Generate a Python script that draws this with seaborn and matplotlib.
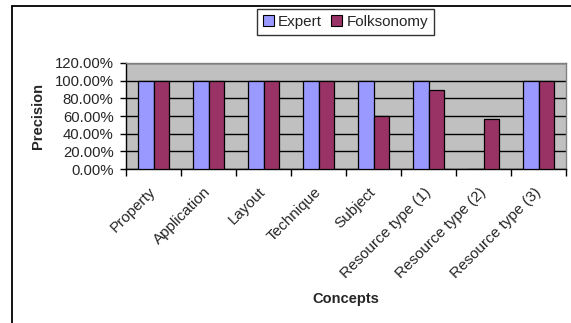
import numpy as np
import pandas as pd
import seaborn as sns
import matplotlib
matplotlib.use("Agg")
import matplotlib.pyplot as plt
from matplotlib.ticker import PercentFormatter, FixedLocator
from matplotlib.patches import Patch
from matplotlib.lines import Line2D

concepts = ["Property", "Application", "Layout", "Technique", "Subject",
            "Resource type (1)", "Resource type (2)", "Resource type (3)"]
expert = [100, 100, 100, 100, 100, 100, 0, 100]
folksonomy = [100, 100, 100, 100, 60, 88.89, 57.14, 100]
series = ["Expert", "Folksonomy"]
colors = ["#9999FF", "#993366"]
yticks = [0, 20, 40, 60, 80, 100, 120]

df = pd.DataFrame({
    "Concept": concepts * 2,
    "Precision": expert + folksonomy,
    "Method": [series[0]] * len(concepts) + [series[1]] * len(concepts),
})

sns.set_theme(style="white")
plt.rcParams["font.family"] = ["Liberation Sans", "DejaVu Sans"]

W, H = 571, 323
fig = plt.figure(figsize=(W / 100, H / 100), dpi=100)
ax = fig.add_axes([126 / W, 1 - 169 / H, 440 / W, 106 / H])
ax.set_facecolor("#C0C0C0")

sns.barplot(data=df, x="Concept", y="Precision", hue="Method", order=concepts,
            hue_order=series, palette=colors, width=0.58, edgecolor="black",
            linewidth=0.9, saturation=1, ax=ax, legend=False, errorbar=None,
            zorder=3)

ax.set_ylim(0, 120)
ax.set_xlim(-0.5, len(concepts) - 0.5)
ax.yaxis.set_major_locator(FixedLocator(yticks))
ax.yaxis.set_major_formatter(PercentFormatter(xmax=100, decimals=2))
ax.tick_params(axis="y", which="major", direction="out", length=4, width=1,
               color="black", labelsize=10.7, pad=5, left=True)
ax.yaxis.grid(True, color="black", linewidth=1)
ax.set_axisbelow(True)
for t in ax.yaxis.get_major_ticks():
    if abs(t.get_loc() - 120) < 1e-6:
        t.gridline.set_visible(False)

# Excel-style ticks at category boundaries, labels at category centres
ax.xaxis.set_major_locator(FixedLocator(np.arange(-0.5, len(concepts), 1.0)))
ax.xaxis.set_minor_locator(FixedLocator(np.arange(len(concepts))))
ax.set_xticklabels([""] * (len(concepts) + 1))
ax.set_xticklabels(concepts, minor=True, rotation=45, ha="right",
                   va="center", rotation_mode="anchor", fontsize=11)
ax.tick_params(axis="x", which="major", direction="out", length=5, width=1,
               color="black", bottom=True)
ax.tick_params(axis="x", which="minor", length=0, pad=15)

for s in ["left", "bottom"]:
    ax.spines[s].set_color("black")
    ax.spines[s].set_linewidth(1)
for s in ["top", "right"]:
    ax.spines[s].set_color("#808080")
    ax.spines[s].set_linewidth(1)

ax.set_xlabel("Concepts", fontsize=10.5, fontweight="bold", va="top")
ax.xaxis.set_label_coords(0.5, (169 - 292) / 106)
ax.set_ylabel("Precision", fontsize=10.5, fontweight="bold")
ax.yaxis.set_label_coords((45 - 126) / 440, 0.5)

handles = [Patch(facecolor=c, edgecolor="black", linewidth=0.8) for c in colors]
leg = fig.legend(handles, series, loc="center",
                 bbox_to_anchor=(345.5 / W, 1 - 22 / H), ncol=2,
                 fontsize=11, frameon=True, fancybox=False, shadow=False,
                 handlelength=0.7, handleheight=0.7, handletextpad=0.3,
                 columnspacing=0.6, borderpad=0.4, borderaxespad=0)
leg.get_frame().set_edgecolor("black")
leg.get_frame().set_linewidth(1)
leg.get_frame().set_facecolor("white")

# outer chart frame (only left and top edges fall inside the image)
fig.add_artist(Line2D([12 / W, 12 / W], [0, 1 - 6 / H], color="black", lw=1.3))
fig.add_artist(Line2D([12 / W, 1], [1 - 6 / H, 1 - 6 / H], color="black", lw=1.3))

fig.savefig("out.png", dpi=100)
